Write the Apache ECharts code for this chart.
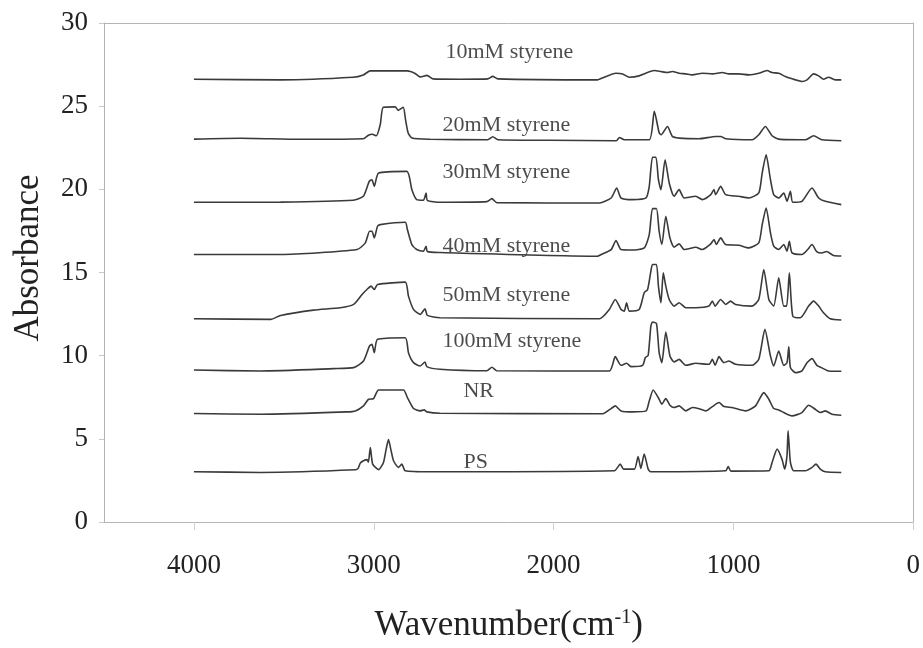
<!DOCTYPE html>
<html>
<head>
<meta charset="utf-8">
<script src="https://cdn.jsdelivr.net/npm/echarts@6/dist/echarts.min.js"></script>
<style>
html,body{margin:0;padding:0;background:#fff;}
#chart{width:923px;height:648px;}
</style>
</head>
<body>
<div id="chart"></div>
<script>
// ---- data (wavenumber cm^-1, absorbance) ----
const seriesNames = ['10mM styrene','20mM styrene','30mM styrene','40mM styrene','50mM styrene','100mM styrene','NR','PS'];
const xTicks = [0,1000,2000,3000,4000];
const yTicks = [0,5,10,15,20,25,30];

const s10mM = [[4000,26.62],[3518,26.58],[3114,26.74],[3058,26.88],[3019,27.12],[2814,27.12],[2770,26.97],[2742,26.76],[2704,26.85],[2670,26.64],[2521,26.62],[2366,26.64],[2338,26.79],[2310,26.64],[1756,26.58],[1745,26.62],[1653,26.98],[1616,26.94],[1579,26.74],[1524,26.82],[1440,27.14],[1403,27.08],[1367,27.02],[1339,27.08],[1302,26.98],[1265,26.94],[1228,26.88],[1173,26.98],[1117,26.94],[1062,27.02],[1025,26.94],[970,26.94],[914,26.88],[859,26.98],[813,27.14],[785,27.02],[748,26.98],[711,26.78],[655,26.58],[619,26.48],[591,26.58],[554,26.94],[526,26.82],[499,26.62],[471,26.74],[434,26.58],[400,26.58]];

const s20mM = [[4000,23.02],[3740,23.07],[3407,23.01],[3058,23.04],[3030,23.25],[3008,23.31],[2986,23.22],[2964,23.88],[2947,24.93],[2881,24.96],[2864,24.75],[2836,24.93],[2823,24.18],[2809,23.40],[2787,23.08],[2687,23.01],[2366,22.98],[2338,23.16],[2310,22.98],[2022,22.95],[1651,22.92],[1634,23.12],[1607,22.98],[1468,22.98],[1440,24.69],[1413,23.40],[1402,23.28],[1367,23.78],[1339,23.18],[1302,23.08],[1191,23.04],[1099,23.18],[1071,23.18],[1042,23.04],[896,22.98],[859,23.28],[822,23.78],[785,23.22],[748,23.02],[600,22.98],[554,23.22],[508,22.98],[400,22.92]];

const s30mM = [[4000,19.22],[3518,19.23],[3114,19.34],[3058,19.58],[3025,20.48],[3010,20.58],[2997,20.18],[2973,20.98],[2816,21.08],[2788,19.98],[2761,19.38],[2724,19.34],[2709,19.78],[2702,19.34],[2632,19.22],[2371,19.26],[2343,19.44],[2316,19.20],[1745,19.18],[1680,19.48],[1649,20.08],[1625,19.48],[1561,19.38],[1486,19.48],[1468,20.18],[1450,21.93],[1431,21.93],[1417,20.58],[1403,19.98],[1380,21.78],[1357,20.38],[1330,19.58],[1302,19.98],[1274,19.48],[1209,19.58],[1173,19.38],[1126,19.68],[1108,19.98],[1099,19.68],[1071,20.18],[1043,19.68],[970,19.58],[914,19.48],[859,19.78],[840,20.98],[818,22.08],[794,20.58],[776,19.68],[748,19.48],[720,19.78],[702,19.28],[683,19.88],[670,19.22],[619,19.28],[563,20.08],[526,19.48],[489,19.28],[400,19.08]];

const s40mM = [[4000,16.08],[3518,16.08],[3093,16.38],[3047,16.78],[3023,17.48],[3010,17.48],[2997,17.08],[2979,17.78],[2964,17.88],[2825,18.02],[2813,17.58],[2788,16.68],[2761,16.38],[2724,16.28],[2709,16.58],[2702,16.26],[2632,16.20],[1756,15.98],[1736,16.08],[1680,16.38],[1653,16.92],[1625,16.38],[1562,16.35],[1496,16.48],[1468,17.28],[1450,18.84],[1428,18.84],[1413,17.48],[1398,16.68],[1376,18.38],[1353,17.08],[1330,16.52],[1302,16.72],[1274,16.38],[1209,16.52],[1173,16.38],[1126,16.72],[1108,16.98],[1095,16.68],[1071,17.08],[1043,16.68],[970,16.64],[914,16.48],[859,16.78],[840,17.88],[818,18.88],[794,17.38],[776,16.58],[748,16.38],[720,16.68],[702,16.28],[689,16.88],[674,16.18],[619,16.08],[587,16.38],[563,16.68],[537,16.26],[510,16.17],[482,16.26],[443,16.02],[400,15.99]];

const s50mM = [[4000,12.22],[3573,12.18],[3518,12.42],[3335,12.74],[3186,12.88],[3112,13.08],[3065,13.68],[3038,13.98],[3015,14.18],[2997,13.98],[2979,14.28],[2825,14.42],[2807,13.58],[2779,12.78],[2742,12.48],[2715,12.82],[2702,12.42],[2632,12.28],[1745,12.22],[1690,12.78],[1657,13.38],[1625,12.78],[1607,12.68],[1594,13.18],[1579,12.68],[1524,12.78],[1496,13.78],[1477,13.98],[1459,15.08],[1450,15.48],[1428,15.48],[1417,14.18],[1403,13.18],[1390,14.98],[1376,14.18],[1357,13.38],[1330,12.98],[1302,13.18],[1265,12.88],[1209,12.88],[1136,12.98],[1117,13.28],[1102,12.98],[1071,13.38],[1043,13.08],[1016,13.28],[988,13.08],[896,12.98],[859,13.38],[831,15.18],[803,13.38],[776,12.98],[748,14.68],[720,12.98],[704,12.98],[689,14.98],[670,12.38],[628,12.28],[582,12.98],[554,13.28],[526,12.98],[499,12.58],[461,12.22],[400,12.14]];

const s100mM = [[4000,9.14],[3629,9.08],[3224,9.22],[3112,9.28],[3057,9.68],[3024,10.58],[3010,10.68],[2997,10.18],[2979,10.98],[2825,11.08],[2807,10.18],[2779,9.58],[2742,9.38],[2715,9.62],[2705,9.34],[2632,9.18],[2371,9.09],[2343,9.30],[2316,9.09],[1690,9.08],[1657,9.94],[1625,9.42],[1594,9.54],[1570,9.34],[1505,9.42],[1490,9.88],[1474,10.02],[1459,11.78],[1450,12.02],[1428,11.94],[1413,10.18],[1398,9.58],[1376,11.42],[1353,9.98],[1330,9.62],[1302,9.78],[1265,9.42],[1209,9.54],[1136,9.48],[1117,9.78],[1102,9.42],[1080,9.94],[1053,9.58],[1025,9.68],[988,9.48],[896,9.42],[859,9.78],[825,11.58],[794,9.98],[776,9.38],[748,10.28],[720,9.42],[702,9.58],[692,10.54],[683,9.28],[655,8.98],[619,9.08],[591,9.58],[563,9.82],[536,9.42],[511,9.28],[471,9.08],[400,9.06]];

const sNR = [[4000,6.52],[3629,6.48],[3148,6.62],[3102,6.68],[3057,6.98],[3029,7.38],[3001,7.42],[2973,7.94],[2835,7.94],[2813,7.48],[2779,6.82],[2742,6.68],[2720,6.74],[2705,6.62],[2632,6.54],[1727,6.51],[1680,6.82],[1657,6.98],[1625,6.68],[1561,6.62],[1486,6.68],[1468,7.28],[1446,7.94],[1413,7.38],[1398,7.08],[1376,7.42],[1353,7.02],[1330,6.88],[1302,6.98],[1265,6.68],[1228,6.88],[1191,6.81],[1154,6.68],[1117,6.94],[1080,7.18],[1053,6.94],[1007,6.88],[932,6.68],[877,6.98],[831,7.78],[803,7.38],[776,6.82],[748,6.74],[720,6.58],[674,6.38],[619,6.58],[582,7.02],[545,6.78],[517,6.58],[489,6.68],[452,6.48],[400,6.42]];

const sPS = [[4000,3.02],[3629,2.98],[3102,3.14],[3086,3.24],[3075,3.54],[3057,3.68],[3038,3.75],[3030,3.60],[3019,4.48],[3006,3.48],[2973,3.15],[2946,3.58],[2931,4.38],[2918,4.95],[2903,4.26],[2890,3.68],[2863,3.28],[2844,3.48],[2825,3.08],[2687,3.02],[1662,3.08],[1629,3.48],[1611,3.18],[1551,3.18],[1530,3.94],[1515,3.22],[1496,4.08],[1474,3.18],[1460,3.02],[1043,3.08],[1029,3.34],[1014,3.06],[803,3.08],[785,3.58],[757,4.38],[730,3.78],[715,3.18],[702,3.98],[696,5.48],[683,3.58],[665,3.08],[600,3.08],[563,3.28],[541,3.48],[517,3.18],[489,3.02],[400,2.98]];

// label anchor points in data coordinates (left edge, vertical middle of each spectrum's name)
const labelAnchors = [[2604,28.26],[2620,23.88],[2620,21.0],[2620,16.59],[2620,13.65],[2620,10.89],[2504,7.89],[2504,3.57]];

const spectra = [s10mM,s20mM,s30mM,s40mM,s50mM,s100mM,sNR,sPS];

const serif = "'Liberation Serif','Times New Roman',serif";
const frameColor = '#b4b4b4';

const chart = echarts.init(document.getElementById('chart'), null, {renderer:'canvas'});

const series = spectra.map((d,i)=>({
  type:'line', name:seriesNames[i], data:d, showSymbol:false, symbol:'none', smooth:0.2,
  xAxisIndex:0, yAxisIndex:0,
  lineStyle:{color:'#3a3a3a', width:1.6}, silent:true, animation:false, z:2
}));

series.push({
  type:'scatter', name:'labels', symbolSize:1, itemStyle:{color:'rgba(0,0,0,0)'}, animation:false, silent:true, z:3,
  xAxisIndex:0, yAxisIndex:0,
  data: labelAnchors.map((p,i)=>({value:p, name:seriesNames[i]})),
  label:{show:true, position:'right', distance:0, formatter:p=>p.name,
    fontFamily:serif, fontSize:22, color:'#1e1e1e'}
});

const frameAxis = {show:true, axisLine:{show:true, onZero:false, lineStyle:{color:frameColor, width:1}},
  axisTick:{show:false}, axisLabel:{show:false}, splitLine:{show:false}};

chart.setOption({
  backgroundColor:'#fff',
  animation:false,
  grid:{left:104, right:8, top:23, bottom:125, show:false},
  xAxis:[{
    type:'value', inverse:true, min:0, max:4500, interval:1000, position:'bottom',
    axisLine:{show:true, onZero:false, lineStyle:{color:frameColor, width:1}},
    axisTick:{show:true, inside:false, length:8, lineStyle:{color:'#d0d0d0'}},
    splitLine:{show:false},
    axisLabel:{show:true, showMaxLabel:false, margin:30, fontFamily:serif, fontSize:27, color:'#222',
      formatter:v=> xTicks.indexOf(v)>=0 ? String(v) : ''},
    name:'Wavenumber(cm{sup|-1})', nameLocation:'middle', nameGap:86,
    nameTextStyle:{fontFamily:serif, fontSize:35, color:'#222',
      rich:{sup:{fontFamily:serif, fontSize:20, color:'#222', verticalAlign:'top', padding:[0,0,14,0]}}}
  }, Object.assign({type:'value', inverse:true, min:0, max:4500, position:'top'}, frameAxis)],
  yAxis:[{
    type:'value', min:0, max:30, interval:5, position:'left',
    axisLine:{show:true, onZero:false, lineStyle:{color:frameColor, width:1}},
    axisTick:{show:true, inside:false, length:5, lineStyle:{color:'#c8c8c8'}},
    splitLine:{show:false},
    axisLabel:{margin:16, fontFamily:serif, fontSize:27, color:'#222',
      formatter:v=> yTicks.indexOf(v)>=0 ? String(v) : ''}
  }, Object.assign({type:'value', min:0, max:30, position:'right'}, frameAxis)],
  graphic:[{
    type:'text', x:29, y:258, rotation:Math.PI/2,
    style:{text:'Absorbance', fontFamily:serif, fontSize:35, fill:'#222', textAlign:'center', textVerticalAlign:'middle'}
  }],
  series:series
});
</script>
</body>
</html>
